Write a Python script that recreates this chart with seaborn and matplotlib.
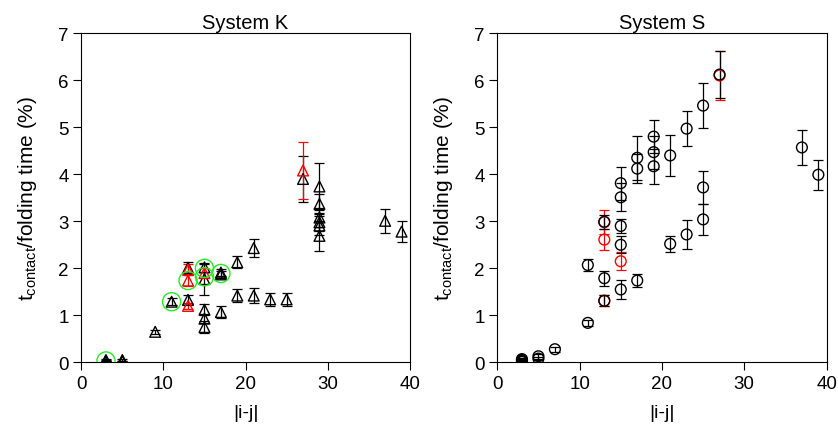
import numpy as np
import pandas as pd
import matplotlib
matplotlib.use("Agg")
import matplotlib.pyplot as plt
import seaborn as sns

sns.set_theme(style="ticks")
plt.rcParams["font.family"] = ["Liberation Sans", "DejaVu Sans"]
plt.rcParams["mathtext.fontset"] = "custom"
plt.rcParams["mathtext.rm"] = "Liberation Sans"
plt.rcParams["mathtext.it"] = "Liberation Sans"
plt.rcParams["mathtext.default"] = "regular"
plt.rcParams["text.color"] = "black"
plt.rcParams["axes.labelcolor"] = "black"
plt.rcParams["axes.titlecolor"] = "black"

# ---- System K (triangles) ----
k_sep = [3, 3, 3, 5, 5, 9, 11, 13, 13, 13, 13, 13, 15, 15, 15, 15, 15, 15,
         17, 17, 17, 19, 19, 21, 21, 23, 25, 27, 27, 29, 29, 29, 29, 29, 29, 37, 39]
k_frac = [0.01, 0.03, 0.05, 0.02, 0.05, 0.65, 1.29, 2.01, 1.97, 1.74, 1.33, 1.20,
          2.02, 1.90, 1.77, 1.12, 0.93, 0.75, 1.91, 1.87, 1.07, 2.13, 1.42, 2.43, 1.42,
          1.34, 1.34, 3.90, 4.08, 3.74, 3.37, 3.08, 2.98, 2.91, 2.69, 3.01, 2.78]
k_err = [0.01, 0.01, 0.02, 0.01, 0.02, 0.04, 0.08, 0.13, 0.12, 0.12, 0.10, 0.07,
         0.10, 0.10, 0.33, 0.12, 0.10, 0.12, 0.08, 0.08, 0.12, 0.13, 0.14, 0.20, 0.16,
         0.14, 0.14, 0.49, 0.61, 0.49, 0.20, 0.20, 0.18, 0.20, 0.32, 0.25, 0.23]
k_set = ["black", "black", "black", "black", "black", "black", "black", "black", "red",
         "red", "black", "red", "black", "red", "black", "black", "black", "black",
         "black", "black", "black", "black", "black", "black", "black", "black", "black",
         "black", "red", "black", "black", "black", "black", "black", "black", "black", "black"]
k_ring_sep = [3, 11, 13, 15, 15, 17]
k_ring_frac = [0.03, 1.29, 1.74, 2.00, 1.82, 1.89]

# ---- System S (circles) ----
s_sep = [3, 3, 3, 3, 5, 5, 7, 11, 11, 13, 13, 13, 13, 13, 13, 15, 15, 15, 15, 15, 15,
         17, 17, 17, 19, 19, 19, 21, 21, 23, 23, 25, 25, 25, 27, 27, 37, 39]
s_frac = [0.01, 0.03, 0.05, 0.07, 0.08, 0.13, 0.28, 2.07, 0.84, 2.99, 2.98, 2.61, 1.79,
          1.31, 1.31, 3.81, 3.51, 2.90, 2.50, 2.15, 1.55, 4.35, 4.12, 1.74, 4.80, 4.47,
          4.17, 4.40, 2.52, 4.97, 2.72, 5.46, 3.72, 3.04, 6.10, 6.12, 4.57, 3.99]
s_err = [0.02, 0.02, 0.02, 0.02, 0.04, 0.05, 0.05, 0.13, 0.07, 0.15, 0.26, 0.22, 0.16,
         0.12, 0.12, 0.35, 0.30, 0.15, 0.18, 0.19, 0.20, 0.47, 0.30, 0.14, 0.35, 0.35,
         0.37, 0.43, 0.17, 0.37, 0.30, 0.48, 0.35, 0.33, 0.53, 0.50, 0.37, 0.32]
s_set = ["black", "black", "black", "black", "black", "black", "black", "black", "black",
         "black", "red", "red", "black", "red", "black", "black", "black", "black", "black",
         "red", "black", "black", "black", "black", "black", "black", "black", "black",
         "black", "black", "black", "black", "black", "black", "red", "black", "black", "black"]

xticks = [0, 10, 20, 30, 40]
yticks = [0, 1, 2, 3, 4, 5, 6, 7]
palette = {"black": "#000000", "red": "#ff0000"}
ring_color = "#22ee22"

df_k = pd.DataFrame({"sep": k_sep, "frac": k_frac, "err": k_err, "set": k_set})
df_s = pd.DataFrame({"sep": s_sep, "frac": s_frac, "err": s_err, "set": s_set})
df_ring = pd.DataFrame({"sep": k_ring_sep, "frac": k_ring_frac})

fig = plt.figure(figsize=(8.38, 4.27), dpi=100)
ax_k = fig.add_axes([0.097, 0.149, 0.392, 0.771])
ax_s = fig.add_axes([0.5934, 0.149, 0.393, 0.771])


def draw_group(ax, sub, color, marker):
    ax.errorbar(sub["sep"], sub["frac"], yerr=sub["err"], fmt="none",
                ecolor=color, elinewidth=0.9, capsize=3.4, capthick=0.9, zorder=2)
    sns.scatterplot(data=sub, x="sep", y="frac", marker=marker, s=60,
                    color=color, linewidth=1.0, ax=ax, zorder=3, legend=False)
    coll = ax.collections[-1]
    coll.set_facecolor("none")
    coll.set_edgecolor(color)
    coll.set_linewidth(1.0)


def style(ax, title):
    ax.set_xlim(0, 40)
    ax.set_ylim(0, 7)
    ax.set_xticks(xticks)
    ax.set_yticks(yticks)
    ax.tick_params(direction="out", length=5.8, width=0.8, labelsize=13.5,
                   pad=3.2, colors="black")
    for sp in ax.spines.values():
        sp.set_visible(True)
        sp.set_linewidth(0.8)
        sp.set_color("black")
    ax.set_xlabel("|i-j|", fontsize=14, labelpad=9, color="black")
    ax.set_ylabel(r"t$_{contact}$/folding time (%)", fontsize=15, labelpad=14,
                  color="black")
    ax.set_title(title, fontsize=14.5, pad=4, color="black")


# System K: black first, red on top
for key in ["black", "red"]:
    draw_group(ax_k, df_k[df_k["set"] == key], palette[key], "^")
sns.scatterplot(data=df_ring, x="sep", y="frac", marker="o", s=170,
                color=ring_color, linewidth=1.0, ax=ax_k, zorder=4, legend=False)
ring = ax_k.collections[-1]
ring.set_facecolor("none")
ring.set_edgecolor(ring_color)

# System S: red first, black on top
for key in ["red", "black"]:
    draw_group(ax_s, df_s[df_s["set"] == key], palette[key], "o")

style(ax_k, "System K")
style(ax_s, "System S")

fig.savefig("out.png", dpi=100)
